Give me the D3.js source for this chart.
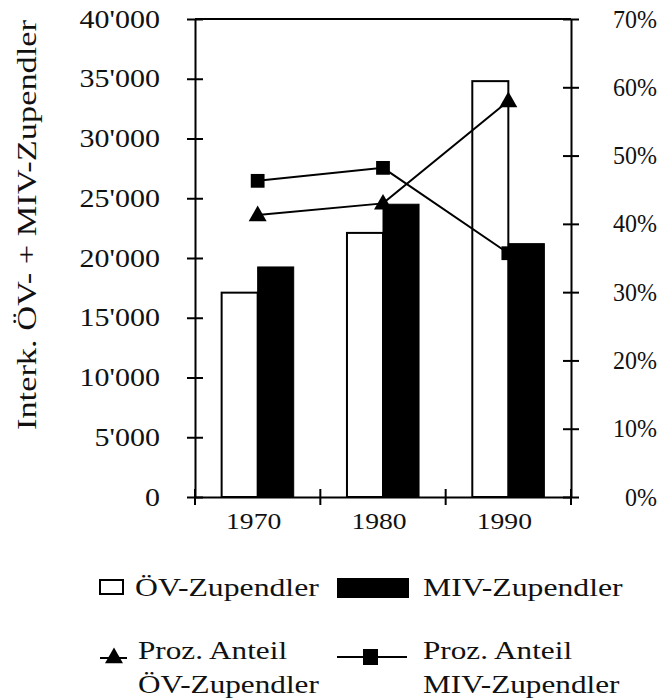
<!DOCTYPE html>
<html>
<head>
<meta charset="utf-8">
<script src="https://cdn.jsdelivr.net/npm/d3@7"></script>
<style>
  body { margin: 0; background: #fff; }
  svg { display: block; }
  svg text { font-family: "Liberation Serif", "DejaVu Serif", serif; }
</style>
</head>
<body>
<svg id="chart" width="668" height="700"></svg>
<script>
// data
const years = ['1970', '1980', '1990'];
const oevPendler = [17100, 22100, 34800];
const mivPendler = [19250, 24500, 21200];
const oevAnteil = [41.3, 43.0, 58.0];
const mivAnteil = [46.3, 48.2, 35.7];
const leftTicks = [0, 5000, 10000, 15000, 20000, 25000, 30000, 35000, 40000];
const rightTicks = [0, 10, 20, 30, 40, 50, 60, 70];
const yLabel = 'Interk. ÖV- + MIV-Zupendler';
const barNames = ['ÖV-Zupendler', 'MIV-Zupendler'];
const lineNames = [['Proz. Anteil', 'ÖV-Zupendler'], ['Proz. Anteil', 'MIV-Zupendler']];

const svg = d3.select('#chart');
const plotL = 195, plotR = 571, plotT = 19, plotB = 497;

const swiss = d3.formatLocale({ decimal: '.', thousands: "'", grouping: [3], currency: ['', ''] });
const fmt = swiss.format(',');

// stretch text horizontally (the scan is wider than the font)
function stretch(sel, k) {
  sel.each(function () {
    const w = this.getComputedTextLength();
    d3.select(this).attr('textLength', w * k).attr('lengthAdjust', 'spacingAndGlyphs');
  });
}

const x = d3.scaleBand().domain(years).range([plotL, plotR])
  .paddingInner(0.425).paddingOuter(0.2125);
const xSub = d3.scaleBand().domain([0, 1]).range([0, x.bandwidth()]);
const y = d3.scaleLinear().domain([0, 40000]).range([plotB, plotT]);
const yR = d3.scaleLinear().domain([0, 70]).range([plotB, plotT]);

// bars
const groups = svg.append('g').selectAll('g')
  .data(years).join('g')
  .attr('transform', d => `translate(${x(d)},0)`);

groups.append('rect')
  .attr('x', xSub(0)).attr('width', xSub.bandwidth())
  .attr('y', (d, i) => y(oevPendler[i]))
  .attr('height', (d, i) => y(0) - y(oevPendler[i]))
  .attr('fill', '#fff').attr('stroke', '#000').attr('stroke-width', 2);

groups.append('rect')
  .attr('x', xSub(1)).attr('width', xSub.bandwidth())
  .attr('y', (d, i) => y(mivPendler[i]))
  .attr('height', (d, i) => y(0) - y(mivPendler[i]))
  .attr('fill', '#000').attr('stroke', '#000').attr('stroke-width', 1);

// frame top line
svg.append('line')
  .attr('x1', plotL).attr('x2', plotR).attr('y1', plotT).attr('y2', plotT)
  .attr('stroke', '#000').attr('stroke-width', 2);

// left axis
const gL = svg.append('g').attr('transform', `translate(${plotL},0)`)
  .call(d3.axisLeft(y).tickValues(leftTicks).tickFormat(fmt).tickSizeOuter(0).tickPadding(29));
gL.selectAll('.tick line').attr('x1', -8).attr('x2', 8);
gL.selectAll('.tick text').attr('font-size', 25).attr('fill', '#111');
stretch(gL.selectAll('.tick text'), 1.2);

// right axis
const gR = svg.append('g').attr('transform', `translate(${plotR},0)`)
  .call(d3.axisRight(yR).tickValues(rightTicks).tickFormat(d => d + '%').tickSizeOuter(0));
gR.selectAll('.tick line').attr('x1', -8).attr('x2', 8);
gR.selectAll('.tick text').attr('font-size', 25).attr('fill', '#111')
  .attr('text-anchor', 'end').attr('x', 86);
stretch(gR.selectAll('.tick text'), 0.96);

// bottom axis: labels at band centers, ticks at band borders
const gB = svg.append('g').attr('transform', `translate(0,${plotB})`)
  .call(d3.axisBottom(x).tickSize(0).tickSizeOuter(0).tickPadding(13));
gB.selectAll('.tick text').attr('font-size', 24).attr('fill', '#111').attr('dy', '0.8em')
  .attr('x', -4);
stretch(gB.selectAll('.tick text'), 1.15);
gB.selectAll('line.border')
  .data(d3.range(years.length + 1)).join('line')
  .attr('class', 'border')
  .attr('x1', i => x.range()[0] + i * x.step())
  .attr('x2', i => x.range()[0] + i * x.step())
  .attr('y1', -8).attr('y2', 8).attr('stroke', '#000');

svg.selectAll('.domain, .tick line, line.border').attr('stroke-width', 2).attr('stroke', '#000');

// lines
const cx = d => x(d) + x.bandwidth() / 2;
const line = d3.line().x(d => cx(d[0])).y(d => yR(d[1]));
const oevPts = years.map((d, i) => [d, oevAnteil[i]]);
const mivPts = years.map((d, i) => [d, mivAnteil[i]]);

svg.append('path').attr('d', line(oevPts)).attr('fill', 'none').attr('stroke', '#000').attr('stroke-width', 2);
svg.append('path').attr('d', line(mivPts)).attr('fill', 'none').attr('stroke', '#000').attr('stroke-width', 2);

const tri = d3.symbol().type(d3.symbolTriangle).size(140);
const sq = d3.symbol().type(d3.symbolSquare).size(190);

svg.append('g').selectAll('path').data(oevPts).join('path')
  .attr('d', tri).attr('transform', d => `translate(${cx(d[0])},${yR(d[1]) + 1})`);
svg.append('g').selectAll('path').data(mivPts).join('path')
  .attr('d', sq).attr('transform', d => `translate(${cx(d[0])},${yR(d[1])})`);

// y axis title
const yt = svg.append('text')
  .attr('transform', 'translate(36,225) rotate(-90)')
  .attr('text-anchor', 'middle').attr('font-size', 28).attr('fill', '#111')
  .text(yLabel);
yt.attr('textLength', 410).attr('lengthAdjust', 'spacingAndGlyphs');

// legend
const lg = svg.append('g').attr('fill', '#111');
lg.append('rect').attr('x', 100).attr('y', 580).attr('width', 23).attr('height', 14)
  .attr('fill', '#fff').attr('stroke', '#000').attr('stroke-width', 2);
lg.append('rect').attr('x', 337).attr('y', 578).attr('width', 72).attr('height', 20).attr('fill', '#000');
const lt1 = lg.selectAll('text.bar').data(barNames).join('text')
  .attr('class', 'bar')
  .attr('x', (d, i) => [135, 423][i]).attr('y', 596)
  .attr('font-size', 26).text(d => d);
stretch(lt1, 1.22);

lg.append('line').attr('x1', 100).attr('x2', 127).attr('y1', 658).attr('y2', 658)
  .attr('stroke', '#000').attr('stroke-width', 2);
lg.append('path').attr('d', tri).attr('transform', 'translate(114,658)').attr('fill', '#000');
lg.append('line').attr('x1', 337).attr('x2', 407).attr('y1', 657).attr('y2', 657)
  .attr('stroke', '#000').attr('stroke-width', 2);
lg.append('rect').attr('x', 363).attr('y', 649).attr('width', 15).attr('height', 16).attr('fill', '#000');

lineNames.forEach((lines, i) => {
  const t = lg.append('text').attr('font-size', 26);
  t.selectAll('tspan').data(lines).join('tspan')
    .attr('x', [138, 423][i]).attr('y', (d, j) => 659 + j * 34)
    .text(d => d);
  stretch(t.selectAll('tspan'), 1.2);
});
</script>
</body>
</html>
